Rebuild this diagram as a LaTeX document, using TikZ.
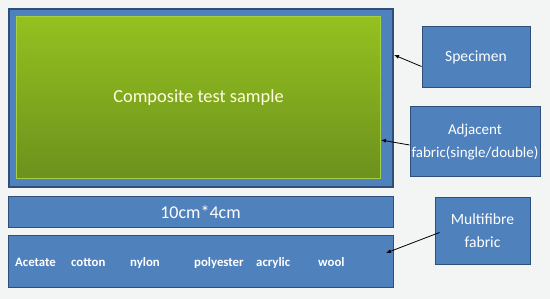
\documentclass[tikz,border=0pt]{standalone}
\usepackage{fontspec}
\setmainfont{Carlito}
\usetikzlibrary{arrows.meta}
\definecolor{Panel}{HTML}{4F81BD}
\definecolor{PanelEdge}{HTML}{2F4F7A}
\definecolor{SampleTop}{HTML}{95C11F}
\definecolor{SampleBot}{HTML}{6C911D}
\definecolor{SampleEdge}{HTML}{A6D147}
\definecolor{Paper}{HTML}{F3F4F4}

\begin{document}
\begin{tikzpicture}[x=1pt,y=-1pt,>={Latex[length=5pt,width=4pt]},
  panel/.style={draw=PanelEdge,line width=1pt,fill=Panel,text=white,inner sep=0pt},
  tag/.style={panel,align=center,font=\fontsize{15.6}{23}\selectfont},
  fibre/.style={text=white,font=\bfseries\fontsize{12.8}{14}\selectfont,anchor=base west,inner sep=0pt}]
\fill[Paper] (0,0) rectangle (550,299);
\useasboundingbox (0,0) rectangle (550,299);
% specimen with the adjacent fabric around it
\node[panel,line width=1.5pt,minimum width=384pt,minimum height=178pt] (outer) at (201,98){};
\node[draw=SampleEdge,line width=1pt,top color=SampleTop,bottom color=SampleBot,minimum width=364pt,minimum height=162pt,text=yellow!12,font=\fontsize{18.4}{20}\selectfont] (sample) at (198.5,97.5){Composite test sample};
% size and multifibre strip
\node[panel,minimum width=385pt,minimum height=31pt,font=\fontsize{18}{20}\selectfont] (size) at (200.5,212.5){10cm*4cm};
\node[panel,minimum width=385pt,minimum height=52pt] (strip) at (200.5,262){};
\node[fibre] (acet) at (15,267){Acetate};
\node[fibre] (cott) at (71,267){cotton};
\node[fibre] (nyl) at (130,267){nylon};
\node[fibre] (poly) at (194,267){polyester};
\node[fibre] (acry) at (256,267){acrylic};
\node[fibre] (wool) at (318,267){wool};
% labels
\node[tag,minimum width=108pt,minimum height=61pt] (spec) at (476,57.5){Specimen};
\node[tag,minimum width=130pt,minimum height=70pt,font=\fontsize{15}{23}\selectfont] (adj) at (475,142){Adjacent\\fabric(single/double)};
\node[tag,minimum width=95pt,minimum height=67pt] (multi) at (482.5,231){Multifibre\\fabric};
\coordinate (specpt) at (394,55);
\coordinate (adjpt) at (381,140);
\coordinate (multipt) at (386,253);
\draw[->,thick] ([yshift=-9pt]spec.west) -- (specpt);
\draw[->,thick] ([yshift=-3pt]adj.west) -- (adjpt);
\draw[->,thick] ([xshift=5pt,yshift=-1.5pt]multi.west) -- (multipt);
\end{tikzpicture}
\end{document}
